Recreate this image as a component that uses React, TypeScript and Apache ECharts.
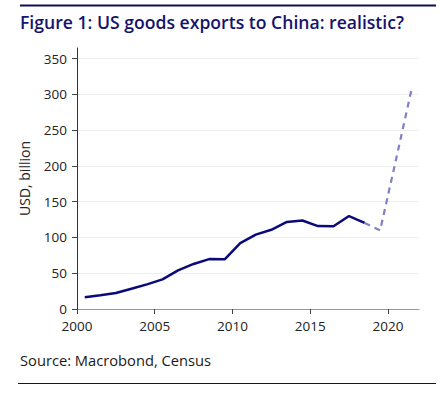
import React, { useEffect, useRef } from "react";
import * as echarts from "echarts";

const years = [2000.5, 2001.5, 2002.5, 2003.5, 2004.5, 2005.5, 2006.5, 2007.5, 2008.5, 2009.5, 2010.5, 2011.5, 2012.5, 2013.5, 2014.5, 2015.5, 2016.5, 2017.5, 2018.5];
const exportsUsd = [16.5, 19.2, 22.3, 28.4, 34.5, 41.5, 54, 63, 69.8, 69.5, 92, 104, 110.8, 121.7, 123.8, 116, 115.8, 130, 120.3];
const projYears = [2018.5, 2019.5, 2020.5, 2021.5];
const projection = [120.3, 110, 207, 305];
const xTicks = [2000, 2005, 2010, 2015, 2020];
const yTicks = [0, 50, 100, 150, 200, 250, 300, 350];

const FONT = "'Open Sans', 'Noto Sans', sans-serif";

export default function App() {
  const ref = useRef<HTMLDivElement>(null);
  useEffect(() => {
    if (!ref.current) return;
    const chart = echarts.init(ref.current, null, { renderer: "svg" });
    chart.setOption({
      animation: false,
      backgroundColor: "#ffffff",
      textStyle: { fontFamily: FONT },
      grid: { left: 77, right: 22, top: 48, bottom: 87, containLabel: false },
      graphic: [
        { type: "line", shape: { x1: 20, y1: 5.5, x2: 436, y2: 5.5 }, style: { stroke: "#0f0f55", lineWidth: 2 } },
        { type: "text", x: 20, y: 12.5, style: { text: "Figure 1: US goods exports to China: realistic?", fontFamily: FONT, fontSize: 17.6, fontWeight: 600, fill: "#14146e" } },
        { type: "text", x: 20, y: 352, style: { text: "Source: Macrobond, Census", fontFamily: FONT, fontSize: 14.7, fill: "#1a1a1a" } },
        { type: "line", shape: { x1: 18, y1: 383.5, x2: 436, y2: 383.5 }, style: { stroke: "#141432", lineWidth: 1 } },
      ],
      xAxis: {
        type: "value",
        min: 2000,
        max: 2022,
        interval: 5,
        axisLine: { show: true, lineStyle: { color: "#9a9a9a", width: 1 } },
        axisTick: { show: true, length: 5, customValues: xTicks, lineStyle: { color: "#444" } },
        axisLabel: { customValues: xTicks, formatter: (v: number) => String(v), color: "#222", fontSize: 13.5, fontFamily: FONT, margin: 10 },
        splitLine: { show: false },
      },
      yAxis: {
        type: "value",
        min: 0,
        max: 365,
        interval: 50,
        name: "USD, billion",
        nameLocation: "middle",
        nameGap: 46,
        nameTextStyle: { color: "#222", fontSize: 14, fontFamily: FONT },
        axisLine: { show: true, lineStyle: { color: "#333", width: 1 } },
        axisTick: { show: true, length: 5, customValues: yTicks, lineStyle: { color: "#444" } },
        axisLabel: { customValues: yTicks, formatter: (v: number) => String(v), color: "#222", fontSize: 13.5, fontFamily: FONT, margin: 10 },
        splitLine: { show: true, lineStyle: { color: "#eeeeee", width: 1 } },
      },
      series: [
        {
          type: "line",
          data: years.map((y, i) => [y, exportsUsd[i]]),
          showSymbol: false,
          lineStyle: { color: "#0a0a7a", width: 2.5 },
          z: 3,
        },
        {
          type: "line",
          data: projYears.map((y, i) => [y, projection[i]]),
          showSymbol: false,
          lineStyle: { color: "#8080c4", width: 2.2, type: [6, 5] },
          z: 2,
        },
      ],
    });
    return () => chart.dispose();
  }, []);
  return <div ref={ref} style={{ position: "fixed", left: 0, top: 0, width: 441, height: 396 }} />;
}
